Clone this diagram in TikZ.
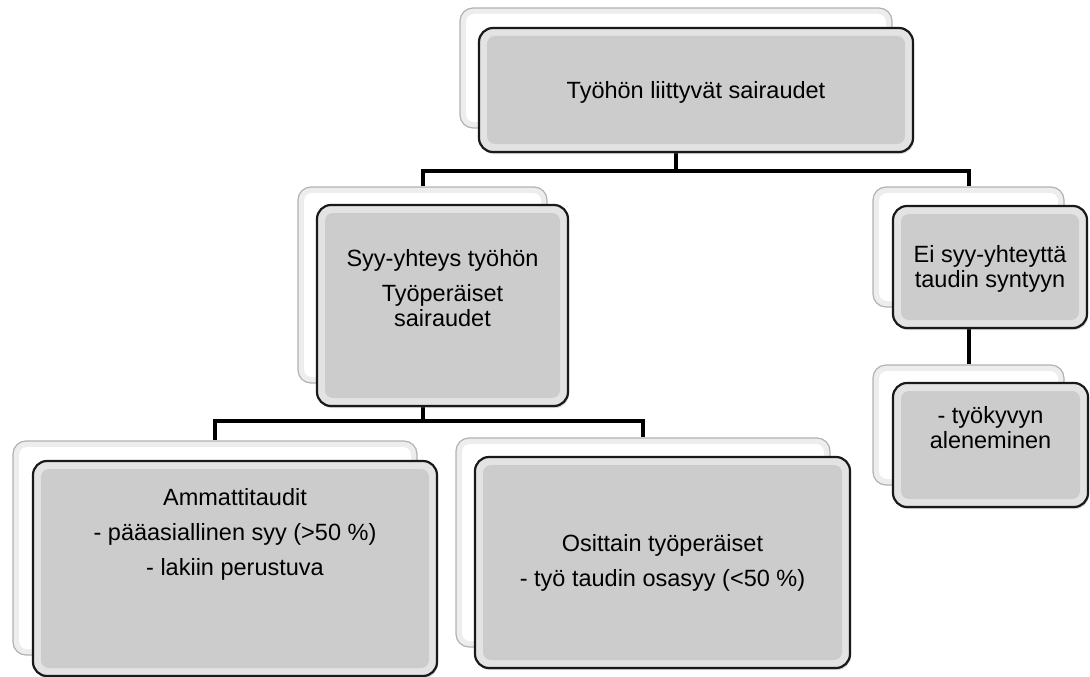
\documentclass[tikz,border=0pt]{standalone}
\usepackage{fontspec}
\setmainfont{Liberation Sans}
\usepackage{tikz}
\usetikzlibrary{shadows, calc, positioning, backgrounds}
\tikzset{
  boxsize/.style 2 args = {minimum width=#1pt, minimum height=#2pt},
  cardback/.style  = {shape=rectangle, rounded corners=13pt, inner sep=0pt,
                      draw=black!30, line width=1.2pt, fill=black!7,
                      path picture={\fill[white, rounded corners=8pt]
                        ([shift={(6pt,6pt)}]path picture bounding box.south west) rectangle
                        ([shift={(-6pt,-6pt)}]path picture bounding box.north east);}},
  cardfront/.style = {shape=rectangle, rounded corners=14pt, inner sep=0pt,
                      draw=black!90, line width=2.2pt, fill=black!11,
                      drop shadow={shadow xshift=1pt, shadow yshift=-2pt, opacity=0.3},
                      path picture={\fill[black!20, rounded corners=8pt]
                        ([shift={(8pt,8pt)}]path picture bounding box.south west) rectangle
                        ([shift={(-8pt,-8pt)}]path picture bounding box.north east);}},
  txt/.style  = {align=center, inner sep=0pt, font=\fontsize{23.5}{25}\selectfont},
  link/.style = {draw=black, line width=4pt}
}

\begin{document}
\begin{tikzpicture}[x=1pt, y=-1pt]
  \useasboundingbox (0,0) rectangle (1090,677);

  % top level
  \node [cardback, boxsize={432}{120}]  (topb) at (676,68) {};
  \node [cardfront, boxsize={434}{124}] (top)  at (696,90) {};
  \node [txt] (top-t) at ([yshift=-2pt]top.center) {Työhön liittyvät sairaudet};

  % second level
  \node [cardback, boxsize={249}{196}]  (syyb) at (422.5,285) {};
  \node [cardfront, boxsize={251}{201}] (syy)  at (442.5,305.5) {};
  \node [txt] (syy-t) at ([yshift=17pt]syy.center)
    {Syy-yhteys työhön\\[10pt]Työperäiset\\sairaudet};

  \node [cardback, boxsize={191}{120}]  (eib) at (968.5,247) {};
  \node [cardfront, boxsize={194}{122}] (ei)  at (990,267) {};
  \node [txt] (ei-t) at ([yshift=-2pt]ei.center) {Ei syy-yhteyttä\\taudin syntyyn};

  % third level
  \node [cardback, boxsize={404}{214}]  (ammb) at (215,548) {};
  \node [cardfront, boxsize={404}{215}] (amm)  at (235,568.5) {};
  \node [txt] (amm-t) at ([yshift=34.5pt]amm.center)
    {Ammattitaudit\\[10pt]- pääasiallinen syy (>50 \%)\\[10pt]- lakiin perustuva};

  \node [cardback, boxsize={374}{209}]  (osb) at (643,542.5) {};
  \node [cardfront, boxsize={375}{211}] (os)  at (662.5,562.5) {};
  \node [txt] (os-t) at (os.center)
    {Osittain työperäiset\\[10pt]- työ taudin osasyy (<50 \%)};

  \node [cardback, boxsize={191}{120}]  (tykb) at (968.5,425) {};
  \node [cardfront, boxsize={195}{124}] (tyk)  at (990.5,445) {};
  \node [txt] (tyk-t) at ([yshift=17pt]tyk.center) {- työkyvyn\\aleneminen};

  % connectors behind the cards
  \begin{scope}[on background layer]
    \coordinate (fork1) at ([yshift=-42pt]topb.south);
    \coordinate (fork2) at ([yshift=-37pt]syyb.south);
    \draw [link] (topb.south) -- (fork1) -| (syyb.north);
    \draw [link] (fork1) -| (eib.north);
    \draw [link] (syyb.south) -- (fork2) -| (ammb.north);
    \draw [link] (fork2) -| (osb.north);
    \draw [link] (eib.south) -- (tykb.north);
  \end{scope}
\end{tikzpicture}
\end{document}
